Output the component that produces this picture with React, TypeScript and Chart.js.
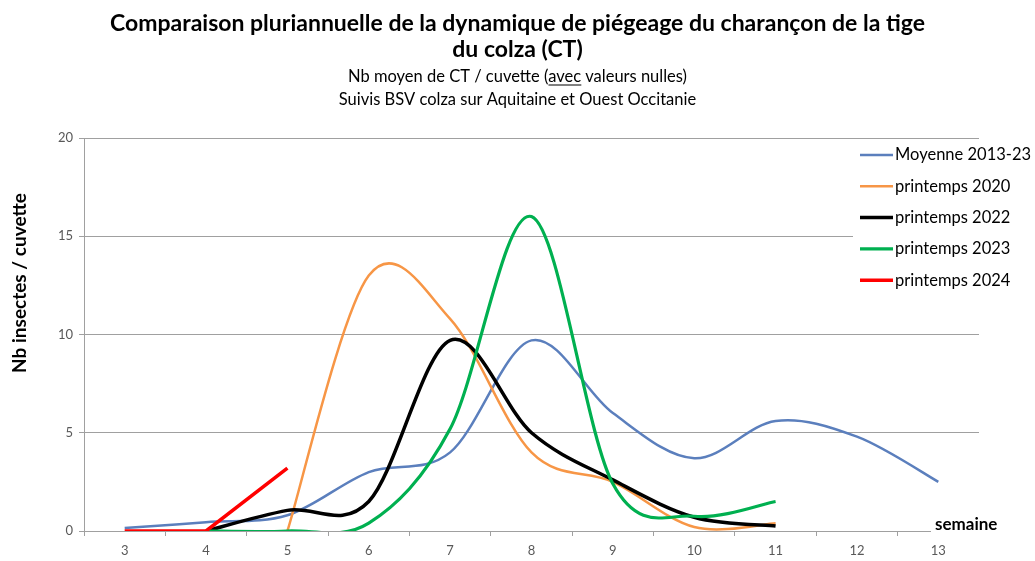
import React, { useEffect, useRef } from "react";
import { Chart, registerables } from "chart.js";

Chart.register(...registerables);

const weeks = ["3", "4", "5", "6", "7", "8", "9", "10", "11", "12", "13"];
const moyenne = [0.15, 0.45, 0.8, 3.0, 4.0, 9.7, 6.0, 3.7, 5.6, 4.8, 2.5];
const printemps2020 = [null, null, 0, 13.0, 10.8, 4.0, 2.5, 0.2, 0.4, null, null];
const printemps2022 = [null, 0, 1.05, 1.5, 9.7, 5.0, 2.6, 0.7, 0.25, null, null];
const printemps2023 = [null, 0, 0, 0.4, 5.2, 16.0, 2.4, 0.75, 1.5, null, null];
const printemps2024 = [0, 0, 3.2, null, null, null, null, null, null, null, null];
const seriesLabels = ["Moyenne 2013-23", "printemps 2020", "printemps 2022", "printemps 2023", "printemps 2024"];
const yTicks = [0, 5, 10, 15, 20];

const titleLines = [
  "Comparaison pluriannuelle de la dynamique de piégeage du charançon de la tige",
  "du colza (CT)",
];
const subtitleLines = [
  "Nb moyen de CT / cuvette (avec valeurs nulles)",
  "Suivis BSV colza sur Aquitaine et Ouest Occitanie",
];
const yTitle = "Nb insectes / cuvette";
const xTitle = "semaine";

const FONT = "Lato";
const GRID = "#a0a0a0";
const SUB_SIZE = 16.5;
const SUB_LH = 23;
const K = 1 / 6;

// Excel-like smoothing: uniform Catmull-Rom control points on the library's points
const excelSpline = {
  id: "excelSpline",
  beforeDatasetDraw(chart: any, args: any) {
    const ds = chart.data.datasets[args.index];
    if (!ds.excelSmooth) return;
    const meta = args.meta;
    const line = meta.dataset;
    const pts = meta.data;
    const process = (s: any[]) => {
      for (let i = 0; i < s.length; i++) {
        const p = s[i];
        const prev = s[i - 1] || p;
        const next = s[i + 1] || p;
        const dx = (next.x - prev.x) * K;
        const dy = (next.y - prev.y) * K;
        p.cp1x = p.x - dx;
        p.cp1y = p.y - dy;
        p.cp2x = p.x + dx;
        p.cp2y = p.y + dy;
      }
    };
    let seg: any[] = [];
    pts.forEach((p: any) => {
      if (p.skip) {
        process(seg);
        seg = [];
      } else seg.push(p);
    });
    process(seg);
    line._pointsUpdated = true;
    delete line._path;
  },
};

const extras = {
  id: "extras",
  afterDraw(chart: any) {
    const ctx = chart.ctx;
    ctx.save();
    // underline "avec"
    const sub = chart.boxes.find((b: any) => b.options && b.options.text === subtitleLines);
    if (sub) {
      ctx.font = `${SUB_SIZE}px ${FONT}`;
      const line = subtitleLines[0];
      const w = ctx.measureText(line).width;
      const cx = (sub.left + sub.right) / 2;
      const idx = line.indexOf("avec");
      const x0 = cx - w / 2 + ctx.measureText(line.slice(0, idx)).width;
      const ww = ctx.measureText("avec").width;
      const y = sub.top + sub.options.padding.top + SUB_LH / 2 + 8;
      ctx.strokeStyle = "#000";
      ctx.lineWidth = 1;
      ctx.beginPath();
      ctx.moveTo(x0, y + 0.5);
      ctx.lineTo(x0 + ww, y + 0.5);
      ctx.stroke();
    }
    // y title
    ctx.fillStyle = "#000";
    ctx.font = `bold 19px ${FONT}`;
    ctx.textAlign = "center";
    ctx.textBaseline = "middle";
    ctx.translate(20, 283);
    ctx.rotate(-Math.PI / 2);
    ctx.fillText(yTitle, 0, 0);
    ctx.setTransform(1, 0, 0, 1, 0, 0);
    // x title
    const area = chart.chartArea;
    ctx.fillStyle = "#fff";
    ctx.fillRect(931, area.bottom - 14, 90, 22);
    ctx.fillStyle = "#000";
    ctx.font = `bold 17px ${FONT}`;
    ctx.textAlign = "left";
    ctx.fillText(xTitle, 935, area.bottom - 6);
    // legend
    ctx.fillStyle = "#fff";
    ctx.fillRect(853, area.top + 3, 182, 157);
    ctx.font = `16.5px ${FONT}`;
    chart.data.datasets.forEach((ds: any, i: number) => {
      const y = 155 + i * 31.3;
      ctx.strokeStyle = ds.borderColor;
      ctx.lineWidth = ds.borderWidth;
      ctx.beginPath();
      ctx.moveTo(860, y);
      ctx.lineTo(893, y);
      ctx.stroke();
      ctx.fillStyle = "#000";
      ctx.fillText(ds.label, 895, y);
    });
    ctx.restore();
  },
};

export default function App() {
  const ref = useRef<HTMLCanvasElement>(null);
  useEffect(() => {
    if (!ref.current) return;
    const mk = (label: string, data: any[], color: string, width: number, order: number, smooth = true) => ({
      label,
      data,
      borderColor: color,
      backgroundColor: color,
      borderWidth: width,
      pointRadius: 0,
      tension: smooth ? 0.4 : 0,
      excelSmooth: smooth,
      order,
      spanGaps: false,
    });
    const chart = new Chart(ref.current, {
      type: "line",
      data: {
        labels: weeks,
        datasets: [
          mk(seriesLabels[0], moyenne, "#5b7fbd", 2.5, 5),
          mk(seriesLabels[1], printemps2020, "#f79646", 2.5, 4),
          mk(seriesLabels[2], printemps2022, "#000000", 3.5, 3),
          mk(seriesLabels[3], printemps2023, "#00b050", 3.2, 2),
          mk(seriesLabels[4], printemps2024, "#ff0000", 3.5, 1, false),
        ],
      },
      options: {
        responsive: false,
        animation: false,
        layout: { padding: { left: 0, right: 0, top: 0, bottom: 0 } },
        plugins: {
          legend: { display: false },
          tooltip: { enabled: false },
          title: {
            display: true,
            text: titleLines,
            color: "#000",
            font: { family: FONT, size: 23, weight: "bold", lineHeight: 26 / 23 },
            padding: { top: 11, bottom: 1 },
          },
          subtitle: {
            display: true,
            text: subtitleLines,
            color: "#000",
            font: { family: FONT, size: SUB_SIZE, weight: "normal", lineHeight: SUB_LH / SUB_SIZE },
            padding: { top: 1, bottom: 27 },
          },
        },
        scales: {
          x: {
            type: "category",
            offset: true,
            grid: { display: true, drawOnChartArea: false, drawTicks: true, tickLength: 5, color: GRID, offset: true },
            border: { color: GRID, width: 1 },
            ticks: { color: "#595959", font: { family: FONT, size: 13 }, padding: 7, maxRotation: 0, autoSkip: false },
            afterFit: (s: any) => { s.height = 30; },
          },
          y: {
            min: 0,
            max: 20,
            afterBuildTicks: (s: any) => { s.ticks = yTicks.map((v) => ({ value: v })); },
            grid: { color: GRID, tickLength: 5, lineWidth: 1 },
            border: { color: GRID, width: 1 },
            ticks: { color: "#595959", font: { family: FONT, size: 13 }, padding: 6 },
            afterFit: (s: any) => { s.width = 84; },
          },
          yRight: {
            position: "right",
            display: true,
            grid: { display: false },
            border: { display: false },
            ticks: { display: false },
            afterFit: (s: any) => { s.width = 56; },
          },
        },
      },
      plugins: [excelSpline, extras],
    } as any);
    return () => chart.destroy();
  }, []);
  return (
    <div style={{ position: "fixed", left: 0, top: 0, width: 1035, height: 561, background: "#fff" }}>
      <canvas ref={ref} width={1035} height={561} style={{ display: "block" }} />
    </div>
  );
}
